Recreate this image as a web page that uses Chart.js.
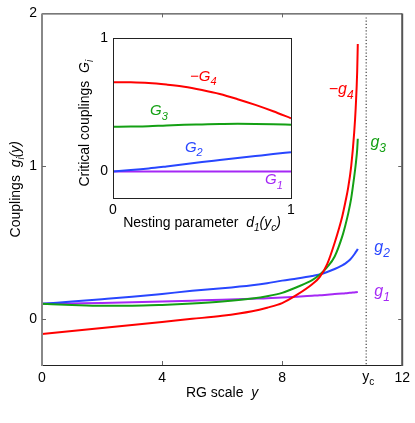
<!DOCTYPE html>
<html>
<head>
<meta charset="utf-8">
<script src="https://cdn.jsdelivr.net/npm/chart.js@4.4.1/dist/chart.umd.min.js"></script>
<style>
  html, body { margin: 0; padding: 0; background: #fff; }
  #wrap { position: relative; width: 415px; height: 423px; }
  #main { position: absolute; left: 0; top: 0; }
  #inset { position: absolute; left: 60px; top: 25px; }
</style>
</head>
<body>
<div id="wrap">
  <canvas id="main" width="415" height="423"></canvas>
  <canvas id="inset" width="250" height="210"></canvas>
</div>
<script>
// RG flow of the couplings g_i(y)
const rgScale = [0, 1, 2, 3, 4, 5, 6, 7, 7.5, 8, 8.5, 9, 9.25, 9.5, 9.75, 10, 10.1, 10.2, 10.3, 10.4, 10.45, 10.5, 10.52];
const g1 = [0.100, 0.103, 0.106, 0.110, 0.115, 0.121, 0.127, 0.134, 0.137, 0.142, 0.147, 0.153, 0.156, 0.160, 0.164, 0.167, 0.169, 0.171, 0.173, 0.175, 0.176, 0.177, 0.178];
const g2 = [0.100, 0.115, 0.130, 0.146, 0.165, 0.185, 0.202, 0.222, 0.235, 0.252, 0.266, 0.282, 0.292, 0.308, 0.328, 0.352, 0.363, 0.378, 0.398, 0.423, 0.438, 0.452, 0.460];
const g3 = [0.100, 0.093, 0.088, 0.088, 0.093, 0.102, 0.115, 0.135, 0.150, 0.172, 0.210, 0.255, 0.290, 0.340, 0.410, 0.540, 0.610, 0.690, 0.790, 0.930, 1.010, 1.110, 1.180];
const minusG4 = [-0.098, -0.078, -0.058, -0.038, -0.018, 0.002, 0.022, 0.052, 0.075, 0.105, 0.160, 0.228, 0.275, 0.360, 0.500, 0.670, 0.760, 0.860, 1.000, 1.220, 1.380, 1.620, 1.800];
const yc = 10.8;

// inset: critical couplings vs nesting parameter
const nesting = [0, 0.1, 0.2, 0.3, 0.4, 0.5, 0.6, 0.7, 0.8, 0.9, 1.0];
const G1 = [0, 0, 0, 0, 0, 0, 0, 0, 0, 0, 0];
const G2 = [0, 0.010, 0.022, 0.037, 0.053, 0.070, 0.085, 0.100, 0.115, 0.130, 0.144];
const G3 = [0.335, 0.337, 0.340, 0.346, 0.350, 0.353, 0.356, 0.358, 0.357, 0.355, 0.351];
const minusGc4 = [0.671, 0.670, 0.665, 0.653, 0.637, 0.612, 0.582, 0.543, 0.500, 0.452, 0.400];

const xTicks = [0, 4, 8, 12];
const yTicks = [0, 1, 2];
const insetTicks = [0, 1];

const RED = 'rgb(255,0,0)', GREEN = 'rgb(20,160,20)', BLUE = 'rgb(40,70,255)', PURPLE = 'rgb(165,40,245)';
const FAM = '"Liberation Sans", Arial, sans-serif';
Chart.defaults.font.family = FAM;

function pts(xs, ys) { return xs.map((x, i) => ({ x: x, y: ys[i] })); }

// parts: [text, flags] flags: i = italic, s = subscript
function rich(ctx, parts, x, y, size, align, color) {
  const fonts = parts.map(p => {
    const f = p[1] || '';
    const sz = f.includes('s') ? Math.round(size * 0.72) : size;
    return { t: p[0], font: (f.includes('i') ? 'italic ' : '') + sz + 'px ' + FAM, dy: f.includes('s') ? size * 0.3 : 0 };
  });
  let w = 0;
  fonts.forEach(p => { ctx.font = p.font; p.w = ctx.measureText(p.t).width; w += p.w; });
  let cx = align === 'center' ? x - w / 2 : x;
  ctx.fillStyle = color;
  ctx.textAlign = 'left';
  ctx.textBaseline = 'alphabetic';
  fonts.forEach(p => { ctx.font = p.font; ctx.fillText(p.t, cx, y + p.dy); cx += p.w; });
}

const mainLabels = [
  { parts: [['\u2212g', 'i'], ['4', 'is']], x: 9.55, y: 1.472, color: RED },
  { parts: [['g', 'i'], ['3', 'is']], x: 10.94, y: 1.127, color: GREEN },
  { parts: [['g', 'i'], ['2', 'is']], x: 11.07, y: 0.438, color: BLUE },
  { parts: [['g', 'i'], ['1', 'is']], x: 11.07, y: 0.152, color: PURPLE }
];

const mainDecor = {
  id: 'mainDecor',
  afterDatasetsDraw(chart) {
    const { ctx, chartArea: a, scales: { x, y } } = chart;
    ctx.save();
    // y_c dotted line
    const xc = x.getPixelForValue(yc);
    ctx.strokeStyle = '#444';
    ctx.lineWidth = 1.2;
    ctx.setLineDash([1.2, 2]);
    ctx.beginPath(); ctx.moveTo(xc, a.top + 4); ctx.lineTo(xc, a.bottom); ctx.stroke();
    ctx.setLineDash([]);

    // frame
    ctx.lineWidth = 1;
    ctx.strokeStyle = '#222';
    ctx.beginPath();
    ctx.moveTo(a.left, a.top + 0.5); ctx.lineTo(a.right, a.top + 0.5);
    ctx.moveTo(a.left, a.bottom + 0.5); ctx.lineTo(a.right, a.bottom + 0.5);
    ctx.stroke();
    ctx.lineWidth = 2;
    ctx.strokeStyle = '#888';
    ctx.beginPath(); ctx.moveTo(a.left, a.top); ctx.lineTo(a.left, a.bottom + 1); ctx.stroke();
    ctx.strokeStyle = '#555';
    ctx.beginPath(); ctx.moveTo(a.right, a.top); ctx.lineTo(a.right, a.bottom + 1); ctx.stroke();

    // inward ticks
    ctx.lineWidth = 1;
    ctx.strokeStyle = '#666';
    ctx.beginPath();
    [4, 8].forEach(v => {
      const px = Math.round(x.getPixelForValue(v)) + 0.5;
      ctx.moveTo(px, a.bottom); ctx.lineTo(px, a.bottom - 4);
      ctx.moveTo(px, a.top); ctx.lineTo(px, a.top + 4);
    });
    [0, 1].forEach(v => {
      const py = Math.round(y.getPixelForValue(v)) + 0.5;
      ctx.moveTo(a.left, py); ctx.lineTo(a.left + 4, py);
      ctx.moveTo(a.right, py); ctx.lineTo(a.right - 4, py);
    });
    ctx.stroke();

    // y_c tick label
    rich(ctx, [['y', ''], ['c', 's']], xc - 4, a.bottom + 16, 14, 'left', '#000');

    // curve labels
    mainLabels.forEach(l => rich(ctx, l.parts, x.getPixelForValue(l.x), y.getPixelForValue(l.y), 16, 'left', l.color));

    // axis titles
    rich(ctx, [['RG scale  ', ''], ['y', 'i']], (a.left + a.right) / 2, 397, 14, 'center', '#000');
    ctx.translate(20, (a.top + a.bottom) / 2);
    ctx.rotate(-Math.PI / 2);
    rich(ctx, [['Couplings  ', ''], ['g', 'i'], ['i', 'is'], ['(y)', 'i']], 0, 0, 14, 'center', '#000');
    ctx.restore();
  }
};

new Chart(document.getElementById('main').getContext('2d'), {
  type: 'line',
  data: {
    datasets: [
      { data: pts(rgScale, minusG4), borderColor: RED },
      { data: pts(rgScale, g3), borderColor: GREEN },
      { data: pts(rgScale, g2), borderColor: BLUE },
      { data: pts(rgScale, g1), borderColor: PURPLE }
    ]
  },
  options: {
    responsive: false,
    animation: false,
    devicePixelRatio: 1,
    layout: { padding: { top: 12, right: 11, left: 0, bottom: 0 } },
    plugins: { legend: { display: false }, tooltip: { enabled: false } },
    elements: { point: { radius: 0 }, line: { borderWidth: 2, cubicInterpolationMode: 'monotone', fill: false } },
    scales: {
      x: {
        type: 'linear', min: 0, max: 12,
        afterBuildTicks: s => { s.ticks = xTicks.map(v => ({ value: v })); },
        afterFit: s => { s.height = 58; },
        grid: { display: false, drawTicks: false },
        border: { display: false },
        ticks: { padding: 5, color: '#000', font: { size: 14 }, maxRotation: 0, autoSkip: false }
      },
      y: {
        type: 'linear', min: -0.3, max: 2,
        afterBuildTicks: s => { s.ticks = yTicks.map(v => ({ value: v })); },
        afterFit: s => { s.width = 42; },
        grid: { display: false, drawTicks: false },
        border: { display: false },
        ticks: { padding: 5, color: '#000', font: { size: 14 }, autoSkip: false }
      }
    }
  },
  plugins: [mainDecor]
});

const insetLabels = [
  { parts: [['\u2212G', 'i'], ['4', 'is']], x: 0.433, y: 0.683, color: RED },
  { parts: [['G', 'i'], ['3', 'is']], x: 0.208, y: 0.422, color: GREEN },
  { parts: [['G', 'i'], ['2', 'is']], x: 0.404, y: 0.146, color: BLUE },
  { parts: [['G', 'i'], ['1', 'is']], x: 0.854, y: -0.097, color: PURPLE }
];

const insetDecor = {
  id: 'insetDecor',
  beforeDatasetsDraw(chart) {
    const { ctx, chartArea: a } = chart;
    ctx.save();
    ctx.fillStyle = '#fff';
    ctx.fillRect(a.left, a.top, a.right - a.left, a.bottom - a.top);
    ctx.restore();
  },
  afterDatasetsDraw(chart) {
    const { ctx, chartArea: a, scales: { x, y } } = chart;
    ctx.save();
    ctx.strokeStyle = '#222';
    ctx.lineWidth = 1;
    ctx.strokeRect(Math.round(a.left) + 0.5, Math.round(a.top) + 0.5, Math.round(a.right - a.left), Math.round(a.bottom - a.top));
    insetLabels.forEach(l => rich(ctx, l.parts, x.getPixelForValue(l.x), y.getPixelForValue(l.y), 15, 'left', l.color));
    rich(ctx, [['Nesting parameter  ', ''], ['d', 'i'], ['1', 'is'], ['(', 'i'], ['y', 'i'], ['c', 'is'], [')', 'i']],
      (a.left + a.right) / 2, 202, 14, 'center', '#000');
    ctx.translate(29, (a.top + a.bottom) / 2 + 5);
    ctx.rotate(-Math.PI / 2);
    rich(ctx, [['Critical couplings  ', ''], ['G', 'i'], ['i', 'is']], 0, 0, 14, 'center', '#000');
    ctx.restore();
  }
};

new Chart(document.getElementById('inset').getContext('2d'), {
  type: 'line',
  data: {
    datasets: [
      { data: pts(nesting, minusGc4), borderColor: RED },
      { data: pts(nesting, G3), borderColor: GREEN },
      { data: pts(nesting, G2), borderColor: BLUE },
      { data: pts(nesting, G1), borderColor: PURPLE }
    ]
  },
  options: {
    responsive: false,
    animation: false,
    devicePixelRatio: 1,
    layout: { padding: { top: 10, right: 19, left: 0, bottom: 0 } },
    plugins: { legend: { display: false }, tooltip: { enabled: false } },
    elements: { point: { radius: 0 }, line: { borderWidth: 2, cubicInterpolationMode: 'monotone', fill: false } },
    scales: {
      x: {
        type: 'linear', min: 0, max: 1,
        afterBuildTicks: s => { s.ticks = insetTicks.map(v => ({ value: v })); },
        afterFit: s => { s.height = 37; },
        grid: { display: false, drawTicks: false },
        border: { display: false },
        ticks: { padding: 4, color: '#000', font: { size: 14 }, maxRotation: 0, autoSkip: false }
      },
      y: {
        type: 'linear', min: -0.2, max: 1,
        afterBuildTicks: s => { s.ticks = insetTicks.map(v => ({ value: v })); },
        afterFit: s => { s.width = 53; },
        grid: { display: false, drawTicks: false },
        border: { display: false },
        ticks: { padding: 5, color: '#000', font: { size: 14 }, autoSkip: false }
      }
    }
  },
  plugins: [insetDecor]
});
</script>
</body>
</html>
